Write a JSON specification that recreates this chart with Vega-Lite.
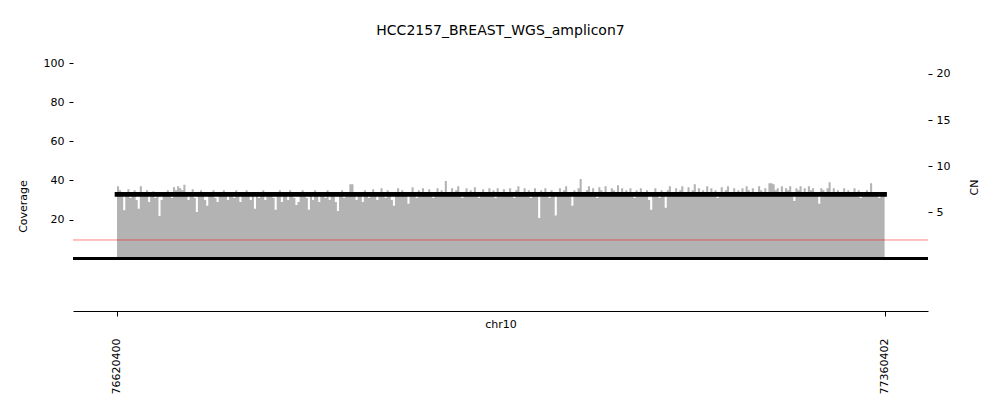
{
"$schema": "https://vega.github.io/schema/vega-lite/v6.json",
"width": 855, "height": 261,
"autosize": {"type": "none"},
"padding": {"left": 73, "top": 50, "right": 72, "bottom": 105},
"background": "white",
"config": {"font": "DejaVu Sans", "view": {"stroke": null},
 "axis": {"grid": false, "labelColor": "black", "tickColor": "black", "titleColor": "black", "labelFontSize": 11, "titleFontSize": 11, "titleFontWeight": "normal", "domainColor": "black", "labelFlush": false, "labelOverlap": false}},
"title": {"text": "HCC2157_BREAST_WGS_amplicon7", "fontSize": 14, "fontWeight": "normal", "color": "black", "offset": 12},
"layer": [
 {"data": {"values": [
{"p":76620400,"c":37},{"p":76622400,"c":35},{"p":76624400,"c":33},{"p":76626400,"c":24.8},{"p":76628400,"c":34},
{"p":76630400,"c":35.5},{"p":76632400,"c":31},{"p":76634400,"c":33},{"p":76636400,"c":35},{"p":76638400,"c":30},
{"p":76640400,"c":25.5},{"p":76642400,"c":37},{"p":76644400,"c":34},{"p":76646400,"c":32},{"p":76648400,"c":35},
{"p":76650400,"c":29},{"p":76652400,"c":33},{"p":76654400,"c":34.5},{"p":76656400,"c":31},{"p":76658400,"c":33},
{"p":76660400,"c":21.8},{"p":76662400,"c":30},{"p":76664400,"c":34},{"p":76666400,"c":33},{"p":76668400,"c":35},
{"p":76670400,"c":32},{"p":76672400,"c":31},{"p":76674400,"c":36.5},{"p":76676400,"c":35},{"p":76678400,"c":37},
{"p":76680400,"c":36},{"p":76682400,"c":35},{"p":76684400,"c":37.8},{"p":76686400,"c":33},{"p":76688400,"c":30},
{"p":76690400,"c":34},{"p":76692400,"c":35.5},{"p":76694400,"c":31},{"p":76696400,"c":23.8},{"p":76698400,"c":33},
{"p":76700400,"c":35},{"p":76702400,"c":32},{"p":76704400,"c":30},{"p":76706400,"c":27},{"p":76708400,"c":34},
{"p":76710400,"c":33},{"p":76712400,"c":35},{"p":76714400,"c":31},{"p":76716400,"c":29},{"p":76718400,"c":34},
{"p":76720400,"c":33},{"p":76722400,"c":35},{"p":76724400,"c":32},{"p":76726400,"c":30},{"p":76728400,"c":34},
{"p":76730400,"c":33},{"p":76732400,"c":31},{"p":76734400,"c":35},{"p":76736400,"c":33},{"p":76738400,"c":29},
{"p":76740400,"c":34},{"p":76742400,"c":32},{"p":76744400,"c":35},{"p":76746400,"c":33},{"p":76748400,"c":30},
{"p":76750400,"c":34},{"p":76752400,"c":25.5},{"p":76754400,"c":33},{"p":76756400,"c":31},{"p":76758400,"c":34},
{"p":76760400,"c":35},{"p":76762400,"c":30},{"p":76764400,"c":33},{"p":76766400,"c":32},{"p":76768400,"c":34},
{"p":76770400,"c":31},{"p":76772400,"c":25},{"p":76774400,"c":33},{"p":76776400,"c":35},{"p":76778400,"c":29},
{"p":76780400,"c":33},{"p":76782400,"c":34},{"p":76784400,"c":30},{"p":76786400,"c":35},{"p":76788400,"c":32},
{"p":76790400,"c":31},{"p":76792400,"c":27.4},{"p":76794400,"c":29},{"p":76796400,"c":33},{"p":76798400,"c":35},
{"p":76800400,"c":34},{"p":76802400,"c":31},{"p":76804400,"c":25},{"p":76806400,"c":33},{"p":76808400,"c":30},
{"p":76810400,"c":35},{"p":76812400,"c":32},{"p":76814400,"c":29},{"p":76816400,"c":34},{"p":76818400,"c":33},
{"p":76820400,"c":31},{"p":76822400,"c":35},{"p":76824400,"c":30},{"p":76826400,"c":33},{"p":76828400,"c":34},
{"p":76830400,"c":29},{"p":76832400,"c":24.3},{"p":76834400,"c":33},{"p":76836400,"c":35},{"p":76838400,"c":31},
{"p":76840400,"c":33},{"p":76842400,"c":34},{"p":76844400,"c":38},{"p":76846400,"c":38},{"p":76848400,"c":32},
{"p":76850400,"c":30},{"p":76852400,"c":34},{"p":76854400,"c":33},{"p":76856400,"c":29},{"p":76858400,"c":35},
{"p":76860400,"c":33},{"p":76862400,"c":31},{"p":76864400,"c":34},{"p":76866400,"c":35.5},{"p":76868400,"c":32},
{"p":76870400,"c":30},{"p":76872400,"c":34},{"p":76874400,"c":36},{"p":76876400,"c":33},{"p":76878400,"c":31},
{"p":76880400,"c":35},{"p":76882400,"c":33},{"p":76884400,"c":30},{"p":76886400,"c":27},{"p":76888400,"c":34},
{"p":76890400,"c":36},{"p":76892400,"c":33},{"p":76894400,"c":35},{"p":76896400,"c":32},{"p":76898400,"c":34},
{"p":76900400,"c":28},{"p":76902400,"c":33},{"p":76904400,"c":36.5},{"p":76906400,"c":34},{"p":76908400,"c":31},
{"p":76910400,"c":35},{"p":76912400,"c":33},{"p":76914400,"c":36},{"p":76916400,"c":32},{"p":76918400,"c":34},
{"p":76920400,"c":35.5},{"p":76922400,"c":33},{"p":76924400,"c":31},{"p":76926400,"c":34},{"p":76928400,"c":36},
{"p":76930400,"c":33},{"p":76932400,"c":35},{"p":76934400,"c":32},{"p":76936400,"c":39.7},{"p":76938400,"c":34},
{"p":76940400,"c":33},{"p":76942400,"c":36},{"p":76944400,"c":32},{"p":76946400,"c":35},{"p":76948400,"c":37},
{"p":76950400,"c":33},{"p":76952400,"c":31},{"p":76954400,"c":34},{"p":76956400,"c":36},{"p":76958400,"c":33},
{"p":76960400,"c":35},{"p":76962400,"c":32},{"p":76964400,"c":36.5},{"p":76966400,"c":34},{"p":76968400,"c":31},
{"p":76970400,"c":33},{"p":76972400,"c":35.5},{"p":76974400,"c":34},{"p":76976400,"c":32},{"p":76978400,"c":36},
{"p":76980400,"c":33},{"p":76982400,"c":35},{"p":76984400,"c":31},{"p":76986400,"c":36},{"p":76988400,"c":34},
{"p":76990400,"c":33},{"p":76992400,"c":35.5},{"p":76994400,"c":32},{"p":76996400,"c":34},{"p":76998400,"c":36},
{"p":77000400,"c":33},{"p":77002400,"c":31},{"p":77004400,"c":35},{"p":77006400,"c":37},{"p":77008400,"c":34},
{"p":77010400,"c":32},{"p":77012400,"c":36},{"p":77014400,"c":33},{"p":77016400,"c":35},{"p":77018400,"c":31},
{"p":77020400,"c":34},{"p":77022400,"c":36},{"p":77024400,"c":33},{"p":77026400,"c":20.8},{"p":77028400,"c":35},
{"p":77030400,"c":32},{"p":77032400,"c":36},{"p":77034400,"c":34},{"p":77036400,"c":31},{"p":77038400,"c":35},
{"p":77040400,"c":33},{"p":77042400,"c":22},{"p":77044400,"c":34},{"p":77046400,"c":36},{"p":77048400,"c":32},
{"p":77050400,"c":35},{"p":77052400,"c":37},{"p":77054400,"c":33},{"p":77056400,"c":34},{"p":77058400,"c":27},
{"p":77060400,"c":35},{"p":77062400,"c":33},{"p":77064400,"c":36},{"p":77066400,"c":40.7},{"p":77068400,"c":34},
{"p":77070400,"c":32},{"p":77072400,"c":35},{"p":77074400,"c":37},{"p":77076400,"c":33},{"p":77078400,"c":36},
{"p":77080400,"c":34},{"p":77082400,"c":31},{"p":77084400,"c":36.5},{"p":77086400,"c":35},{"p":77088400,"c":33},
{"p":77090400,"c":37},{"p":77092400,"c":34},{"p":77094400,"c":32},{"p":77096400,"c":36},{"p":77098400,"c":35},
{"p":77100400,"c":33},{"p":77102400,"c":37.5},{"p":77104400,"c":34},{"p":77106400,"c":36},{"p":77108400,"c":32},
{"p":77110400,"c":35},{"p":77112400,"c":33},{"p":77114400,"c":36},{"p":77116400,"c":34},{"p":77118400,"c":31},
{"p":77120400,"c":35},{"p":77122400,"c":33},{"p":77124400,"c":36},{"p":77126400,"c":34},{"p":77128400,"c":32},
{"p":77130400,"c":35},{"p":77132400,"c":30},{"p":77134400,"c":25},{"p":77136400,"c":33},{"p":77138400,"c":36},
{"p":77140400,"c":34},{"p":77142400,"c":31},{"p":77144400,"c":35},{"p":77146400,"c":33},{"p":77148400,"c":26},
{"p":77150400,"c":35},{"p":77152400,"c":37},{"p":77154400,"c":34},{"p":77156400,"c":32},{"p":77158400,"c":36},
{"p":77160400,"c":33},{"p":77162400,"c":35},{"p":77164400,"c":37},{"p":77166400,"c":34},{"p":77168400,"c":32},
{"p":77170400,"c":36.5},{"p":77172400,"c":33},{"p":77174400,"c":35},{"p":77176400,"c":38},{"p":77178400,"c":34},
{"p":77180400,"c":36},{"p":77182400,"c":33},{"p":77184400,"c":35},{"p":77186400,"c":32},{"p":77188400,"c":37},
{"p":77190400,"c":34},{"p":77192400,"c":36},{"p":77194400,"c":33},{"p":77196400,"c":35},{"p":77198400,"c":31},
{"p":77200400,"c":34},{"p":77202400,"c":36.5},{"p":77204400,"c":33},{"p":77206400,"c":35},{"p":77208400,"c":37},
{"p":77210400,"c":34},{"p":77212400,"c":32},{"p":77214400,"c":36},{"p":77216400,"c":33},{"p":77218400,"c":35},
{"p":77220400,"c":34},{"p":77222400,"c":36},{"p":77224400,"c":33},{"p":77226400,"c":37},{"p":77228400,"c":35},
{"p":77230400,"c":32},{"p":77232400,"c":36},{"p":77234400,"c":34},{"p":77236400,"c":33},{"p":77238400,"c":37},
{"p":77240400,"c":35},{"p":77242400,"c":33},{"p":77244400,"c":36},{"p":77246400,"c":34},{"p":77248400,"c":38.6},
{"p":77250400,"c":38.6},{"p":77252400,"c":38},{"p":77254400,"c":35},{"p":77256400,"c":36},{"p":77258400,"c":34},
{"p":77260400,"c":37},{"p":77262400,"c":33},{"p":77264400,"c":36},{"p":77266400,"c":35},{"p":77268400,"c":37},
{"p":77270400,"c":34},{"p":77272400,"c":29.5},{"p":77274400,"c":36},{"p":77276400,"c":35},{"p":77278400,"c":37},
{"p":77280400,"c":34},{"p":77282400,"c":36},{"p":77284400,"c":33},{"p":77286400,"c":37},{"p":77288400,"c":35},
{"p":77290400,"c":36},{"p":77292400,"c":34},{"p":77294400,"c":32},{"p":77296400,"c":28},{"p":77298400,"c":36},
{"p":77300400,"c":35},{"p":77302400,"c":33},{"p":77304400,"c":36},{"p":77306400,"c":39},{"p":77308400,"c":34},
{"p":77310400,"c":36},{"p":77312400,"c":33},{"p":77314400,"c":35},{"p":77316400,"c":32},{"p":77318400,"c":34},
{"p":77320400,"c":36},{"p":77322400,"c":33},{"p":77324400,"c":35},{"p":77326400,"c":34},{"p":77328400,"c":32},
{"p":77330400,"c":36},{"p":77332400,"c":33},{"p":77334400,"c":35},{"p":77336400,"c":31},{"p":77338400,"c":34},
{"p":77340400,"c":33},{"p":77342400,"c":35},{"p":77344400,"c":34},{"p":77346400,"c":38.5},{"p":77348400,"c":33},
{"p":77350400,"c":32},{"p":77352400,"c":34},{"p":77354400,"c":31},{"p":77356400,"c":33},{"p":77358400,"c":32},
{"p":77360402,"c":32}
 ]},
  "layer": [
   {"mark": {"type": "area", "interpolate": "step-after", "color": "#b3b3b3"},
    "encoding": {
     "x": {"field": "p", "type": "quantitative", "scale": {"domain": [76578000, 77402240], "nice": false, "zero": false},
       "axis": {"orient": "bottom", "values": [76620400, 77360402], "format": "d", "labelAngle": 270, "labelAlign": "right", "labelBaseline": "middle", "labelPadding": 22, "tickSize": 5, "domain": true, "domainWidth": 1, "title": "chr10", "titleY": 7, "titleBaseline": "top"}},
     "y": {"field": "c", "type": "quantitative", "scale": {"domain": [-26.77, 106.66], "nice": false, "zero": false},
       "axis": {"orient": "left", "values": [20, 40, 60, 80, 100], "domain": false, "tickSize": 4, "labelPadding": 5, "title": "Coverage", "titleAngle": 270, "titleX": -50, "titleY": 156, "titleAlign": "center", "titleBaseline": "middle"}},
     "y2": {"datum": 0}
    }},
   {"mark": {"type": "rule", "color": "black", "strokeWidth": 2.7}, "encoding": {"y": {"datum": 0, "type": "quantitative"}}}
  ]},
 {"data": {"values": [{"s": 76620400, "e": 77360402, "cn": 6.95}]},
  "layer": [
   {"mark": {"type": "rule", "color": "red", "opacity": 0.5, "strokeWidth": 1},
    "encoding": {"y": {"datum": 2, "type": "quantitative", "scale": {"domain": [-5.70, 22.60], "nice": false, "zero": false},
      "axis": {"orient": "right", "values": [5, 10, 15, 20], "domain": false, "tickSize": 4, "labelPadding": 4, "title": "CN", "titleAngle": 270, "titleX": 46, "titleY": 137, "titleAlign": "center", "titleBaseline": "middle"}}}},
   {"mark": {"type": "rule", "color": "black", "strokeWidth": 4.6, "strokeCap": "square"},
    "encoding": {"x": {"field": "s", "type": "quantitative"}, "x2": {"field": "e"}, "y": {"field": "cn", "type": "quantitative"}}}
  ]}
],
"resolve": {"scale": {"y": "independent"}, "axis": {"y": "independent"}}
}
